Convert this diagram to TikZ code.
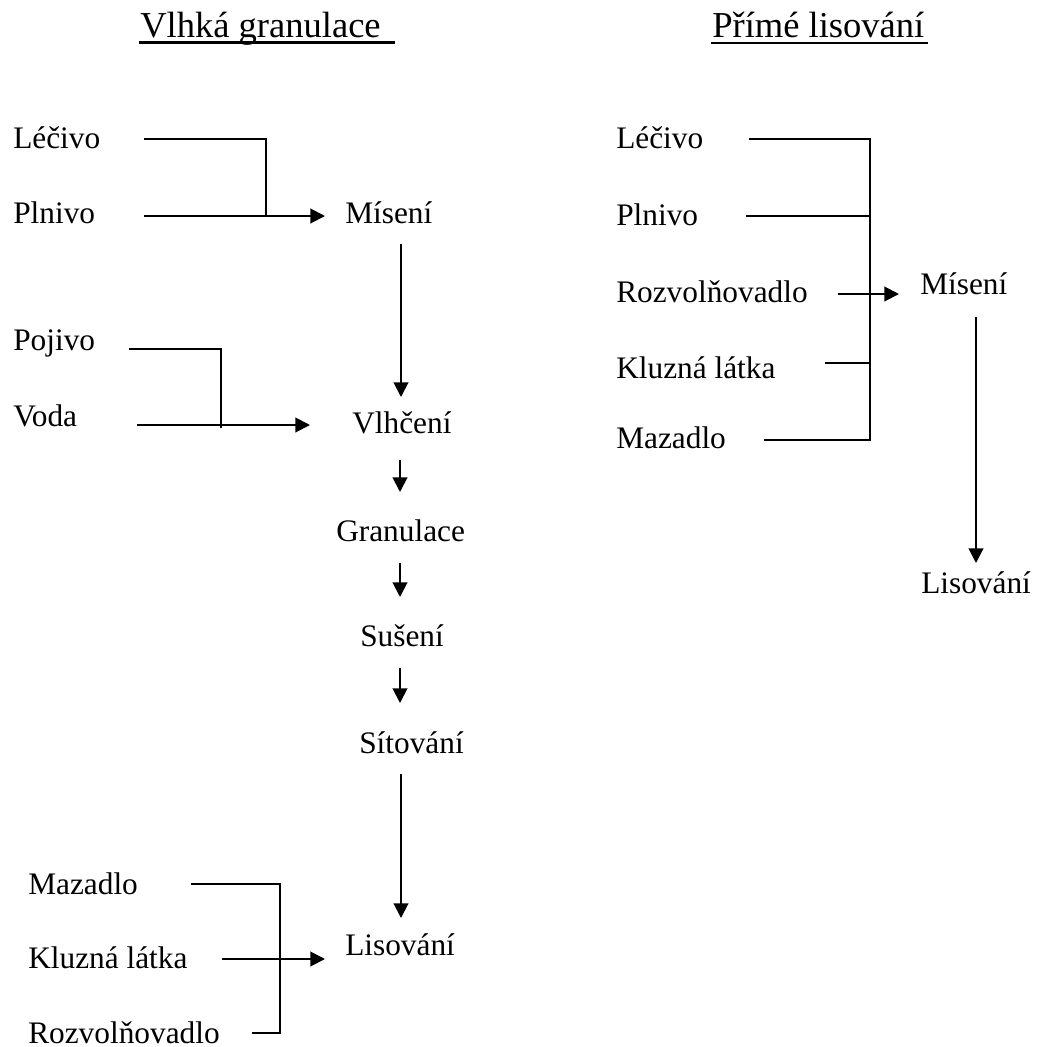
\documentclass[tikz,border=0pt]{standalone}
\usepackage{fontspec}
\setmainfont{Liberation Serif}
\usetikzlibrary{arrows.meta}
\begin{document}
\begin{tikzpicture}[x=0.75pt,y=-0.75pt,
  lbl/.style={anchor=base west,inner sep=0pt,font=\fontsize{23.5}{28}\selectfont},
  ttl/.style={anchor=base west,inner sep=0pt,font=\fontsize{27.4}{32}\selectfont},
  conn/.style={line width=1.5pt},
  arr/.style={conn,-{Triangle[length=11pt,width=11pt]}},
  uline/.style={line width=1.6pt}]
\useasboundingbox[fill=white] (0,0) rectangle (1042,1047);

% titles
\node[ttl] (t1) at (140,37) {Vlhká granulace};
\node[ttl] (t2) at (712,37) {Přímé lisování};
\coordinate (u1a) at (139,42.5); \coordinate (u1b) at (395,42.5);
\coordinate (u2a) at (711,43); \coordinate (u2b) at (928,43);
\draw[uline] (u1a) -- (u1b);
\draw[uline] (u2a) -- (u2b);

% left column labels
\node[lbl] (lec1) at (13,148) {Léčivo};
\node[lbl] (pln1) at (13,223) {Plnivo};
\node[lbl] (poj) at (13,350) {Pojivo};
\node[lbl] (vod) at (13,426) {Voda};
\node[lbl] (maz1) at (28,894) {Mazadlo};
\node[lbl] (klu1) at (28,968) {Kluzná látka};
\node[lbl] (roz1) at (28,1043) {Rozvolňovadlo};

% left column process steps
\node[lbl] (mis1) at (345,223) {Mísení};
\node[lbl] (vlh) at (352,433) {Vlhčení};
\node[lbl] (gra) at (336,541) {Granulace};
\node[lbl] (sus) at (360,646) {Sušení};
\node[lbl] (sit) at (359,753) {Sítování};
\node[lbl] (lis1) at (345,955) {Lisování};

% right column labels
\node[lbl] (lec2) at (616,148) {Léčivo};
\node[lbl] (pln2) at (616,225) {Plnivo};
\node[lbl] (roz2) at (616,302) {Rozvolňovadlo};
\node[lbl] (klu2) at (616,378) {Kluzná látka};
\node[lbl] (maz2) at (616,448) {Mazadlo};
\node[lbl] (mis2) at (920,294) {Mísení};
\node[lbl] (lis2) at (921,593) {Lisování};

% left connectors: Léčivo + Plnivo -> Mísení
\coordinate (a1) at (144,139); \coordinate (a2) at (266,139); \coordinate (a3) at (266,216);
\coordinate (b1) at (144,216); \coordinate (b2) at (325,216);
\draw[conn] (a1) -- (a2) -- (a3);
\draw[arr] (b1) -- (b2);

% Mísení -> Vlhčení
\coordinate (c1) at (401,244); \coordinate (c2) at (401,397);
\draw[arr] (c1) -- (c2);

% Pojivo + Voda -> Vlhčení
\coordinate (d1) at (129,349); \coordinate (d2) at (221,349); \coordinate (d3) at (221,428);
\coordinate (e1) at (137,425); \coordinate (e2) at (310,425);
\draw[conn] (d1) -- (d2) -- (d3);
\draw[arr] (e1) -- (e2);

% short arrows
\coordinate (f1) at (400,460); \coordinate (f2) at (400,492);
\coordinate (g1) at (400,563); \coordinate (g2) at (400,597);
\coordinate (h1) at (400,668); \coordinate (h2) at (400,703);
\draw[arr] (f1) -- (f2);
\draw[arr] (g1) -- (g2);
\draw[arr] (h1) -- (h2);

% Sítování -> Lisování
\coordinate (i1) at (401,774); \coordinate (i2) at (401,918);
\draw[arr] (i1) -- (i2);

% Mazadlo, Kluzná látka, Rozvolňovadlo -> Lisování
\coordinate (j1) at (191,884); \coordinate (j2) at (280,884);
\coordinate (j3) at (280,1033); \coordinate (j4) at (252,1033);
\coordinate (k1) at (222,959); \coordinate (k2) at (325,959);
\draw[conn] (j1) -- (j2) -- (j3) -- (j4);
\draw[arr] (k1) -- (k2);

% right connectors
\coordinate (m1) at (749,139); \coordinate (m2) at (870,139);
\coordinate (m3) at (870,440); \coordinate (m4) at (764,440);
\coordinate (n1) at (746,216); \coordinate (n2) at (870,216);
\coordinate (o1) at (825,363); \coordinate (o2) at (870,363);
\coordinate (p1) at (838,294); \coordinate (p2) at (899,294);
\coordinate (q1) at (976,317); \coordinate (q2) at (976,563);
\draw[conn] (m1) -- (m2) -- (m3) -- (m4);
\draw[conn] (n1) -- (n2);
\draw[conn] (o1) -- (o2);
\draw[arr] (p1) -- (p2);
\draw[arr] (q1) -- (q2);
\end{tikzpicture}
\end{document}
